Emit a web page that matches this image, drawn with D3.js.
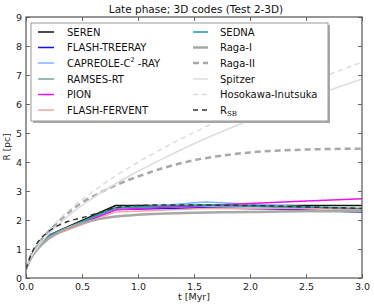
<!DOCTYPE html>
<html><head><meta charset="utf-8">
<script src="https://cdn.jsdelivr.net/npm/d3@7"></script>
<style>
body{margin:0;background:#fff;}
svg{display:block;font-family:"DejaVu Sans",sans-serif;}
</style></head>
<body><svg id="c" width="374" height="305"></svg>
<script>
// ---- data ----
const tCodes = [0, 0.05, 0.1, 0.2, 0.8, 1.6, 2.4, 3.0];
const seren        = [0.31, 0.80, 1.08, 1.47, 2.50, 2.50, 2.50, 2.50];
const flashTreeray = [0.31, 0.76, 1.03, 1.43, 2.36, 2.42, 2.36, 2.27];
const capreole     = [0.31, 0.77, 1.04, 1.44, 2.38, 2.62, 2.47, 2.36];
const ramses       = [0.31, 0.78, 1.06, 1.46, 2.42, 2.50, 2.42, 2.36];
const pion         = [0.31, 0.76, 1.03, 1.43, 2.35, 2.50, 2.64, 2.73];
const flashFervent = [0.31, 0.74, 1.00, 1.40, 2.28, 2.40, 2.40, 2.37];
const sedna        = [0.31, 0.78, 1.06, 1.46, 2.43, 2.52, 2.46, 2.40];

const tModel = [0, 0.05, 0.1, 0.2, 0.3, 0.4, 0.5, 0.65, 0.8, 1.0, 1.25, 1.5, 1.75, 2.0, 2.5, 3.0];
const ragaI     = [0.31, 0.72, 0.98, 1.35, 1.58, 1.76, 1.89, 2.03, 2.12, 2.18, 2.22, 2.25, 2.27, 2.28, 2.30, 2.30];
const ragaII    = [0.31, 0.80, 1.12, 1.60, 1.98, 2.32, 2.60, 2.92, 3.20, 3.50, 3.82, 4.06, 4.22, 4.33, 4.43, 4.46];
const spitzer   = [0.31, 0.76, 1.05, 1.51, 1.88, 2.21, 2.50, 2.89, 3.25, 3.68, 4.17, 4.63, 5.05, 5.44, 6.18, 6.86];
const hosokawa  = [0.31, 0.81, 1.13, 1.63, 2.04, 2.39, 2.70, 3.13, 3.52, 3.99, 4.53, 5.02, 5.48, 5.91, 6.71, 7.44];
const rsb       = [0.31, 0.85, 1.20, 1.60, 1.83, 1.98, 2.08, 2.25, 2.42, 2.50, 2.52, 2.52, 2.51, 2.50, 2.45, 2.40];

const xTicks = [0, 0.5, 1.0, 1.5, 2.0, 2.5, 3.0];
const yTicks = [0, 1, 2, 3, 4, 5, 6, 7, 8, 9];
const title = "Late phase; 3D codes (Test 2-3D)";
const xLabel = "t [Myr]";
const yLabel = "R [pc]";

// ---- series definitions ----
const series = [
  {name:"SEREN", t:tCodes, v:seren, color:"#111111", w:1.5, dash:null},
  {name:"FLASH-TREERAY", t:tCodes, v:flashTreeray, color:"#1010ee", w:1.5, dash:null},
  {name:"CAPREOLE", t:tCodes, v:capreole, color:"#7fb3ff", w:1.5, dash:null},
  {name:"RAMSES-RT", t:tCodes, v:ramses, color:"#6fa39c", w:1.5, dash:null},
  {name:"PION", t:tCodes, v:pion, color:"#ee11ee", w:1.5, dash:null},
  {name:"FLASH-FERVENT", t:tCodes, v:flashFervent, color:"#f5a3a3", w:1.5, dash:null},
  {name:"SEDNA", t:tCodes, v:sedna, color:"#20999a", w:1.5, dash:null},
  {name:"Raga-I", t:tModel, v:ragaI, color:"#a8a8a8", w:2.5, dash:null, smooth:true},
  {name:"Raga-II", t:tModel, v:ragaII, color:"#a8a8a8", w:2.5, dash:"6,4", smooth:true},
  {name:"Spitzer", t:tModel, v:spitzer, color:"#dcdcdc", w:1.5, dash:null, smooth:true},
  {name:"Hosokawa-Inutsuka", t:tModel, v:hosokawa, color:"#dcdcdc", w:1.5, dash:"5,4", smooth:true},
  {name:"RSB", t:tModel, v:rsb, color:"#333333", w:1.5, dash:"5,4", smooth:true}
];

const svg = d3.select("#c");
const L=26, R=362, T=17, B=278;
const x = d3.scaleLinear().domain([0,3]).range([L,R]);
const y = d3.scaleLinear().domain([0,9]).range([B,T]);

svg.append("defs").append("clipPath").attr("id","clip")
  .append("rect").attr("x",L).attr("y",T).attr("width",R-L).attr("height",B-T);

const gLines = svg.append("g").attr("clip-path","url(#clip)");
series.forEach(s=>{
  const pts = s.t.map((t,i)=>[t,s.v[i]]);
  const line = d3.line().x(d=>x(d[0])).y(d=>y(d[1]))
    .curve(s.smooth ? d3.curveMonotoneX : d3.curveLinear);
  gLines.append("path").datum(pts).attr("d",line)
    .attr("fill","none").attr("stroke",s.color).attr("stroke-width",s.w)
    .attr("stroke-dasharray",s.dash).attr("stroke-linejoin","round");
});

// axes (inward ticks on all sides)
const fmtX = d3.format(".1f");
const axBottom = d3.axisBottom(x).tickValues(xTicks).tickFormat(fmtX).tickSize(-4).tickPadding(5);
const axTop = d3.axisTop(x).tickValues(xTicks).tickFormat("").tickSize(-4);
const axLeft = d3.axisLeft(y).tickValues(yTicks).tickFormat(d3.format("d")).tickSize(-4).tickPadding(4);
const axRight = d3.axisRight(y).tickValues(yTicks).tickFormat("").tickSize(-4);
[[axBottom,`translate(0,${B})`],[axTop,`translate(0,${T})`],[axLeft,`translate(${L},0)`],[axRight,`translate(${R},0)`]]
.forEach(([a,tr])=>{
  const g = svg.append("g").attr("transform",tr).call(a);
  g.select(".domain").remove();
  g.selectAll(".tick line").attr("stroke","#666");
  g.selectAll("text").attr("fill","#222").attr("font-size",9.5).attr("font-family","DejaVu Sans");
});

// frame
svg.append("rect").attr("x",L).attr("y",T).attr("width",R-L).attr("height",B-T)
  .attr("fill","none").attr("stroke","#555").attr("stroke-width",1.2);

// legend
const lg = svg.append("g");
lg.append("rect").attr("x",33).attr("y",25).attr("width",297).attr("height",98).attr("fill","#aaa");
lg.append("rect").attr("x",31).attr("y",23).attr("width",297).attr("height",98)
  .attr("fill","#fff").attr("stroke","#999").attr("stroke-width",1);
const rowY = [32, 47.5, 63, 79, 94.5, 110];
series.forEach((s,i)=>{
  const col = i<6?0:1, row = i%6;
  const x0 = col===0?38:193, x1 = col===0?54:208, tx = col===0?67:220;
  const yy = rowY[row];
  lg.append("line").attr("x1",x0).attr("x2",x1).attr("y1",yy).attr("y2",yy)
    .attr("stroke",s.color).attr("stroke-width",s.w).attr("stroke-dasharray",s.dash);
  const t = lg.append("text").attr("x",tx).attr("y",yy+3.6).attr("font-size",10).attr("fill","#111");
  if(s.name==="CAPREOLE"){
    t.append("tspan").text("CAPREOLE-C");
    t.append("tspan").text("2").attr("font-size",6.5).attr("dy",-4.5);
    t.append("tspan").text(" -RAY").attr("dy",4.5);
  } else if(s.name==="RSB"){
    t.append("tspan").text("R");
    t.append("tspan").text("SB").attr("font-size",7).attr("font-family","DejaVu Serif").attr("dy",2.5);
  } else t.text(s.name);
});

// title & labels
svg.append("text").attr("x",196).attr("y",13).attr("text-anchor","middle")
  .attr("font-size",10.5).attr("fill","#111").text(title);
svg.append("text").attr("x",194).attr("y",300).attr("text-anchor","middle")
  .attr("font-size",9.5).attr("fill","#222").text(xLabel);
svg.append("text").attr("transform","translate(10,147) rotate(-90)").attr("text-anchor","middle")
  .attr("font-size",9).attr("fill","#222").text(yLabel);
</script></body></html>
